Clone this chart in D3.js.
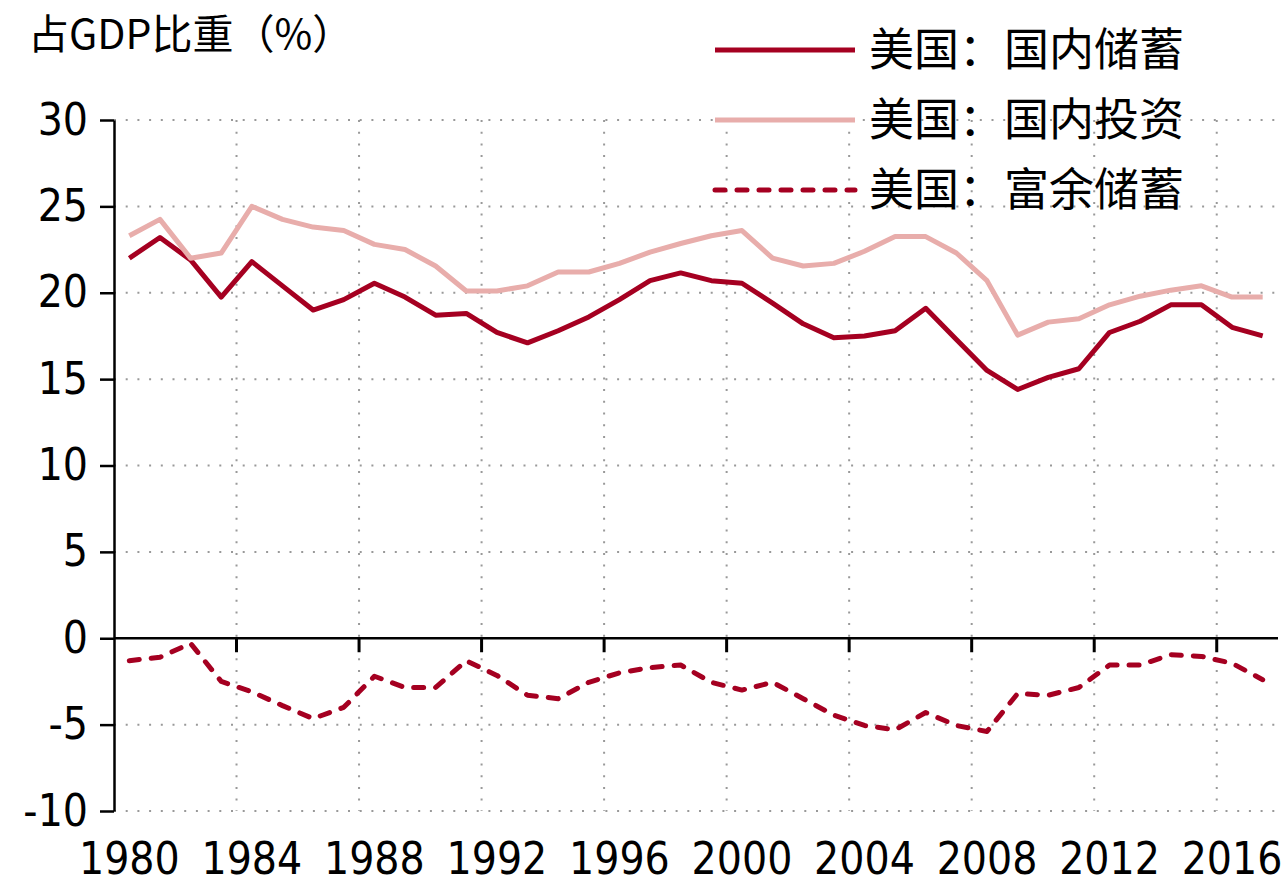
<!DOCTYPE html>
<html>
<head>
<meta charset="utf-8">
<script src="https://cdn.jsdelivr.net/npm/d3@7"></script>
<style>
  body { margin: 0; background: #fff; }
  svg text { fill: #000; }
</style>
</head>
<body>
<div id="chart"></div>
<script>
// years on the x axis
var years = d3.range(1980, 2018);
var xTickYears = [1980, 1984, 1988, 1992, 1996, 2000, 2004, 2008, 2012, 2016];
var yTicks = [-10, -5, 0, 5, 10, 15, 20, 25, 30];

// 美国：国内储蓄
var saving = [22.0, 23.2, 21.9, 19.75, 21.8, 20.4, 19.0, 19.6, 20.55, 19.75,
  18.7, 18.8, 17.7, 17.1, 17.8, 18.6, 19.6, 20.7, 21.15, 20.7,
  20.55, 19.4, 18.2, 17.4, 17.5, 17.8, 19.1, 17.3, 15.5, 14.4,
  15.1, 15.6, 17.7, 18.35, 19.3, 19.3, 18.0, 17.5];
// 美国：国内投资
var investment = [23.3, 24.25, 22.0, 22.3, 25.0, 24.25, 23.8, 23.6, 22.8, 22.5,
  21.55, 20.1, 20.1, 20.4, 21.2, 21.2, 21.7, 22.35, 22.85, 23.3,
  23.6, 22.0, 21.55, 21.7, 22.4, 23.25, 23.25, 22.3, 20.7, 17.55,
  18.3, 18.5, 19.3, 19.8, 20.15, 20.4, 19.75, 19.75];
// 美国：富余储蓄
var surplus = [-1.3, -1.1, -0.3, -2.5, -3.1, -3.9, -4.65, -4.0, -2.2, -2.85,
  -2.85, -1.3, -2.15, -3.3, -3.5, -2.55, -2.0, -1.7, -1.55, -2.55,
  -3.0, -2.55, -3.5, -4.45, -5.05, -5.3, -4.3, -5.05, -5.4, -3.2,
  -3.3, -2.85, -1.55, -1.55, -0.95, -1.05, -1.45, -2.4];

var seriesNames = ["美国：国内储蓄", "美国：国内投资", "美国：富余储蓄"];
var seriesColors = ["#a50021", "#e8adab", "#a50021"];
var seriesDash = [null, null, "10,12"];
var seriesData = [saving, investment, surplus];

var width = 1288, height = 891;
var numFont = "'DejaVu Sans Condensed', 'DejaVu Sans', sans-serif";
var cjkFont = "'Noto Sans CJK SC', sans-serif";

var svg = d3.select("#chart").append("svg")
  .attr("width", width)
  .attr("height", height);

var x = d3.scaleBand()
  .domain(years)
  .range([114, 1278])
  .padding(0);

var y = d3.scaleLinear()
  .domain([-10, 30])
  .range([811, 120]);

// dotted grid
svg.append("g")
  .selectAll("line")
  .data(yTicks.filter(d => d != 0))
  .enter().append("line")
  .attr("x1", x.range()[0]).attr("x2", x.range()[1])
  .attr("y1", d => y(d)).attr("y2", d => y(d))
  .attr("stroke", "#999")
  .attr("stroke-width", 2)
  .attr("stroke-dasharray", "2,9.7");

svg.append("g")
  .selectAll("line")
  .data(xTickYears.slice(1))
  .enter().append("line")
  .attr("x1", d => x(d)).attr("x2", d => x(d))
  .attr("y1", y(30)).attr("y2", y(-10))
  .attr("stroke", "#999")
  .attr("stroke-width", 2)
  .attr("stroke-dasharray", "2,9.7");

// y axis
var yAxis = svg.append("g")
  .attr("transform", "translate(" + x.range()[0] + ",0)")
  .call(d3.axisLeft(y).tickValues(yTicks).tickFormat(d => String(d))
    .tickSize(14).tickPadding(12).tickSizeOuter(0));
yAxis.select(".domain").attr("stroke", "#000").attr("stroke-width", 2.5);
yAxis.selectAll(".tick line").attr("stroke", "#000").attr("stroke-width", 2.5);
yAxis.selectAll("text")
  .style("font-family", numFont)
  .style("font-size", "44px")
  .attr("fill", "#000");

// zero line with ticks at year boundaries
svg.append("line")
  .attr("x1", x.range()[0]).attr("x2", x.range()[1])
  .attr("y1", y(0)).attr("y2", y(0))
  .attr("stroke", "#000")
  .attr("stroke-width", 2.5);

svg.append("g")
  .selectAll("line")
  .data(xTickYears.slice(1))
  .enter().append("line")
  .attr("x1", d => x(d)).attr("x2", d => x(d))
  .attr("y1", y(0)).attr("y2", y(0) + 14)
  .attr("stroke", "#000")
  .attr("stroke-width", 3);

// x labels (centered on each year band)
var xAxis = svg.append("g")
  .attr("transform", "translate(0,843)")
  .call(d3.axisBottom(x).tickValues(xTickYears).tickSize(0).tickPadding(0));
xAxis.select(".domain").remove();
xAxis.selectAll("text")
  .style("font-family", numFont)
  .style("font-size", "44px")
  .attr("fill", "#000");

// lines
var line = d3.line()
  .x((d, i) => x(years[i]) + x.bandwidth() / 2)
  .y(d => y(d));

seriesData.forEach(function(s, i) {
  svg.append("path")
    .datum(s)
    .attr("d", line)
    .attr("fill", "none")
    .attr("stroke", seriesColors[i])
    .attr("stroke-width", 5)
    .attr("stroke-linejoin", "round")
    .attr("stroke-linecap", seriesDash[i] ? "round" : "butt")
    .attr("stroke-dasharray", seriesDash[i]);
});

// legend
var legend = svg.append("g")
  .selectAll("g")
  .data(seriesNames)
  .enter().append("g")
  .attr("transform", (d, i) => "translate(0," + (50 + i * 70) + ")");

legend.append("line")
  .attr("x1", 715).attr("x2", 855)
  .attr("y1", 0).attr("y2", 0)
  .attr("stroke", (d, i) => seriesColors[i])
  .attr("stroke-width", 5)
  .attr("stroke-linecap", (d, i) => seriesDash[i] ? "round" : "butt")
  .attr("stroke-dasharray", (d, i) => seriesDash[i]);

legend.append("text")
  .attr("x", 869)
  .attr("y", 16)
  .style("font-family", cjkFont)
  .style("font-size", "45px")
  .text(d => d);

// unit label
svg.append("text")
  .attr("x", 28)
  .attr("y", 49)
  .style("font-family", cjkFont)
  .style("font-size", "41px")
  .text("占GDP比重（%）");
</script>
</body>
</html>
